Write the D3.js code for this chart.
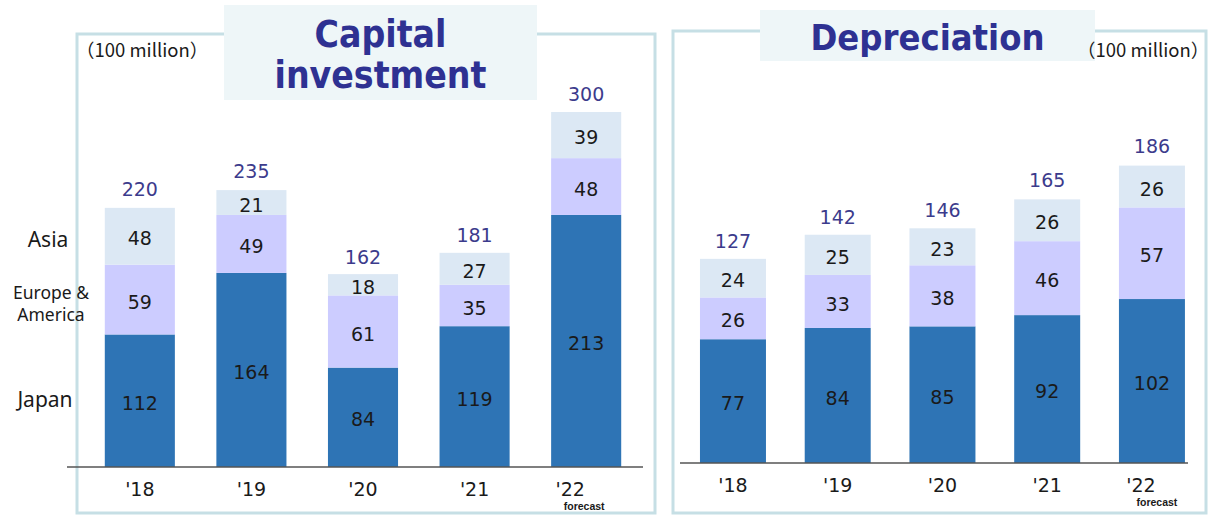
<!DOCTYPE html>
<html>
<head>
<meta charset="utf-8">
<script src="https://cdn.jsdelivr.net/npm/d3@7"></script>
<style>
  html, body { margin: 0; padding: 0; background: #ffffff; }
  svg { display: block; }
</style>
</head>
<body>
<svg id="chart" width="1209" height="516"></svg>
<script>
// ---------- data ----------
const years = ["'18", "'19", "'20", "'21", "'22"];
const seriesNames = ["Japan", "Europe & America", "Asia"];

const capJapan  = [112, 164, 84, 119, 213];
const capEurope = [59, 49, 61, 35, 48];
const capAsia   = [48, 21, 18, 27, 39];
const capTotal  = [220, 235, 162, 181, 300];

const depJapan  = [77, 84, 85, 92, 102];
const depEurope = [26, 33, 38, 46, 57];
const depAsia   = [24, 25, 23, 26, 26];
const depTotal  = [127, 142, 146, 165, 186];

const unitLabel = "（100 million）";
const forecastLabel = "forecast";

// ---------- style ----------
const colors = { "Japan": "#2e74b5", "Europe & America": "#ccccff", "Asia": "#dce8f4" };
const frameColor = "#c6dfe5";
const titleFill = "#eef6f8";
const titleColor = "#2e3192";
const totalColor = "#3c3b8c";
const baseFont = "'DejaVu Sans', Verdana, sans-serif";
const titleFont = "'DejaVu Sans Condensed', 'DejaVu Sans', sans-serif";
const cjkFont = "'Noto Sans CJK JP', 'Noto Sans', sans-serif";

const svg = d3.select("#chart");

function buildRows(j, e, a) {
  return years.map((y, i) => ({ year: y, "Japan": j[i], "Europe & America": e[i], "Asia": a[i] }));
}

function drawPanel(cfg) {
  const g = svg.append("g");
  // frame
  g.append("rect")
    .attr("x", cfg.frame[0]).attr("y", cfg.frame[1])
    .attr("width", cfg.frame[2]).attr("height", cfg.frame[3])
    .attr("fill", "none").attr("stroke", frameColor).attr("stroke-width", 3);

  const x = d3.scaleBand().domain(years).range(cfg.xRange)
    .paddingInner(cfg.padInner).paddingOuter(0.5);
  const y = d3.scaleLinear().domain([0, cfg.yMax]).range([cfg.baseY, cfg.topY]);

  const rows = buildRows(cfg.japan, cfg.europe, cfg.asia);
  const stack = d3.stack().keys(seriesNames)(rows);

  const layers = g.selectAll("g.layer").data(stack).join("g")
    .attr("class", "layer").attr("fill", d => colors[d.key]);
  layers.selectAll("rect").data(d => d).join("rect")
    .attr("x", d => x(d.data.year))
    .attr("width", x.bandwidth())
    .attr("y", d => y(d[1]))
    .attr("height", d => y(d[0]) - y(d[1]));

  // segment labels
  const labelG = g.append("g");
  stack.forEach(layer => {
    labelG.selectAll(null).data(layer).join("text")
      .attr("x", d => x(d.data.year) + x.bandwidth() / 2)
      .attr("y", d => (y(d[0]) + y(d[1])) / 2)
      .attr("dy", "0.48em")
      .attr("text-anchor", "middle")
      .attr("font-family", baseFont)
      .attr("font-size", 19)
      .attr("fill", "#1a1a1a")
      .text(d => d.data[layer.key]);
  });

  // totals
  g.selectAll(null).data(rows).join("text")
    .attr("x", d => x(d.year) + x.bandwidth() / 2)
    .attr("y", (d, i) => y(cfg.total[i]) - 11)
    .attr("text-anchor", "middle")
    .attr("font-family", baseFont)
    .attr("font-size", 19)
    .attr("fill", totalColor)
    .text((d, i) => cfg.total[i]);

  // axis
  const axis = d3.axisBottom(x).tickSize(0).tickPadding(12);
  const ax = g.append("g").attr("transform", `translate(0,${cfg.baseY})`).call(axis);
  ax.select(".domain").remove();
  ax.selectAll("text")
    .attr("font-family", baseFont)
    .attr("font-size", 19)
    .attr("fill", "#1a1a1a")
    .attr("dy", "0.9em")
    .attr("dx", (d, i) => i === years.length - 1 ? cfg.lastDx : 0);
  g.append("line")
    .attr("x1", cfg.axisX[0]).attr("x2", cfg.axisX[1])
    .attr("y1", cfg.baseY).attr("y2", cfg.baseY)
    .attr("stroke", "#555").attr("stroke-width", 1.5);

  // forecast note
  g.append("text")
    .attr("x", x(years[4]) + x.bandwidth() / 2 + cfg.forecastDx)
    .attr("y", cfg.baseY + 43)
    .attr("text-anchor", "middle")
    .attr("font-family", "'Liberation Sans', Arial, sans-serif")
    .attr("font-weight", "bold")
    .attr("font-size", 10.5)
    .attr("fill", "#1a1a1a")
    .text(forecastLabel);

  // title box
  g.append("rect")
    .attr("x", cfg.titleBox[0]).attr("y", cfg.titleBox[1])
    .attr("width", cfg.titleBox[2]).attr("height", cfg.titleBox[3])
    .attr("fill", titleFill);
  cfg.titleLines.forEach((t, i) => {
    g.append("text")
      .attr("x", cfg.titleBox[0] + cfg.titleBox[2] / 2)
      .attr("y", cfg.titleY[i])
      .attr("text-anchor", "middle")
      .attr("font-family", titleFont)
      .attr("font-weight", "bold")
      .attr("font-size", cfg.titleSize)
      .attr("fill", titleColor)
      .text(t);
  });

  // unit label
  g.append("text")
    .attr("x", cfg.unitPos[0]).attr("y", cfg.unitPos[1])
    .attr("font-family", cjkFont)
    .attr("font-size", 18.5)
    .attr("fill", "#1a1a1a")
    .text(unitLabel);
}

drawPanel({
  frame: [77, 34, 578, 479],
  xRange: [49, 677],
  padInner: 0.372,
  baseY: 467, topY: 112, yMax: 300,
  japan: capJapan, europe: capEurope, asia: capAsia, total: capTotal,
  axisX: [67, 643],
  lastDx: -16, forecastDx: -2,
  titleBox: [224, 5, 313, 95],
  titleLines: ["Capital", "investment"],
  titleY: [47, 88],
  titleSize: 37,
  unitPos: [76, 57]
});

drawPanel({
  frame: [673, 31, 533, 482],
  xRange: [647.6, 1237.3],
  padInner: 0.37,
  baseY: 463, topY: 164, yMax: 186,
  japan: depJapan, europe: depEurope, asia: depAsia, total: depTotal,
  axisX: [680, 1188],
  lastDx: -11, forecastDx: 5,
  titleBox: [760, 10, 335, 51],
  titleLines: ["Depreciation"],
  titleY: [50],
  titleSize: 36,
  unitPos: [1077, 57]
});

// series labels on the left
const sideLabels = [
  { lines: ["Asia"], x: 48, y: [247], size: 21 },
  { lines: ["Europe &", "America"], x: 51, y: [299, 321], size: 17.5 },
  { lines: ["Japan"], x: 45, y: [407], size: 21 }
];
sideLabels.forEach(s => {
  s.lines.forEach((t, i) => {
    svg.append("text")
      .attr("x", s.x).attr("y", s.y[i])
      .attr("text-anchor", "middle")
      .attr("font-family", "'Noto Sans', sans-serif")
      .attr("font-size", s.size)
      .attr("fill", "#1a1a1a")
      .text(t);
  });
});
</script>
</body>
</html>
